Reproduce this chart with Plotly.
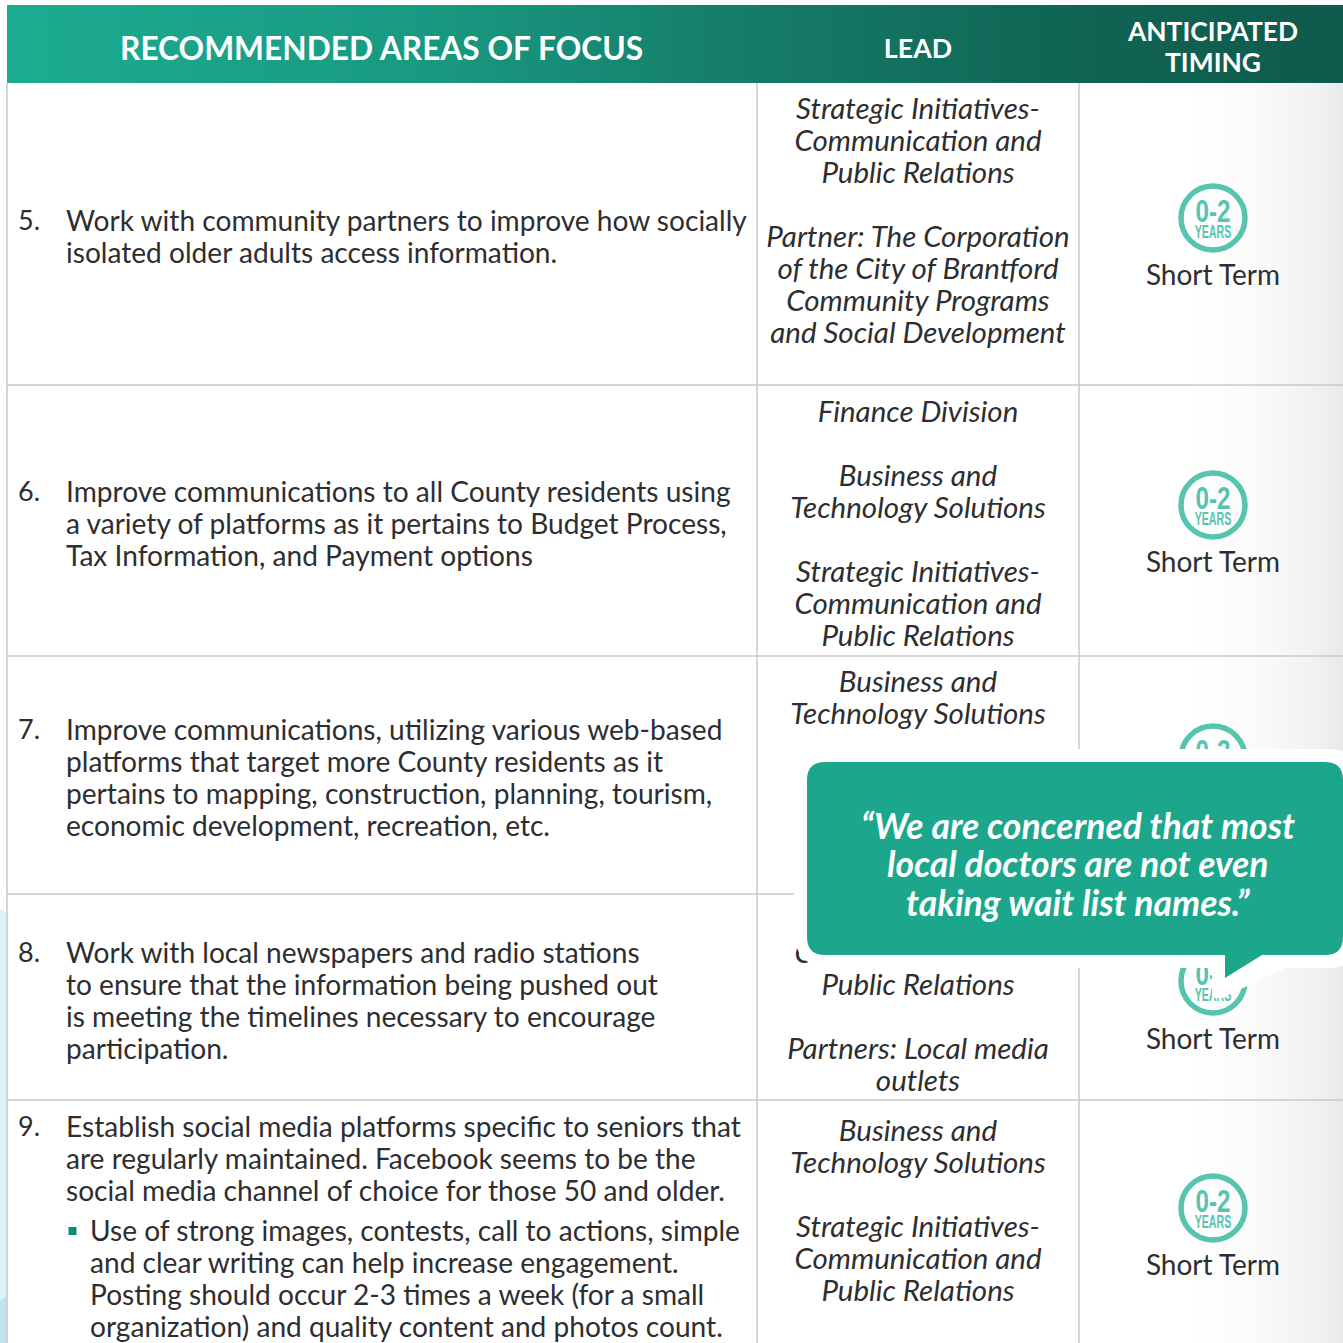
import numpy as np
import plotly.graph_objects as go

W = H = 1343
FONT = "Lato"
INK = "#2e2e30"
GRID = "#c9c9c9"
TEAL = "#1ca78c"
RING = "#57c4b0"
TEXT_DY = 2.5

# ---- table text ----
header_focus = "RECOMMENDED AREAS OF FOCUS"
header_lead = "LEAD"
header_timing = ["ANTICIPATED", "TIMING"]
row_numbers = ["5.", "6.", "7.", "8.", "9."]
number_y = [221, 492, 730, 953, 1127]

focus_lines = [
    ("Work with community partners to improve how socially", 221),
    ("isolated older adults access information.", 253),
    ("Improve communications to all County residents using", 492),
    ("a variety of platforms as it pertains to Budget Process,", 524),
    ("Tax Information, and Payment options", 556),
    ("Improve communications, utilizing various web-based", 730),
    ("platforms that target more County residents as it", 762),
    ("pertains to mapping, construction, planning, tourism,", 794),
    ("economic development, recreation, etc.", 826),
    ("Work with local newspapers and radio stations", 953),
    ("to ensure that the information being pushed out", 985),
    ("is meeting the timelines necessary to encourage", 1017),
    ("participation.", 1049),
    ("Establish social media platforms specific to seniors that", 1127),
    ("are regularly maintained. Facebook seems to be the", 1159),
    ("social media channel of choice for those 50 and older.", 1191),
]
bullet_lines = [
    ("Use of strong images, contests, call to actions, simple", 1231),
    ("and clear writing can help increase engagement.", 1263),
    ("Posting should occur 2-3 times a week (for a small", 1295),
    ("organization) and quality content and photos count.", 1327),
]
lead_lines = [
    ("Strategic Initiatives-", 109), ("Communication and", 141), ("Public Relations", 173),
    ("Partner: The Corporation", 237), ("of the City of Brantford", 269),
    ("Community Programs", 301), ("and Social Development", 333),
    ("Finance Division", 412), ("Business and", 476), ("Technology Solutions", 508),
    ("Strategic Initiatives-", 572), ("Communication and", 604), ("Public Relations", 636),
    ("Business and", 682), ("Technology Solutions", 714),
    ("Communication and", 953), ("Public Relations", 985),
    ("Partners: Local media", 1049), ("outlets", 1081),
    ("Business and", 1131), ("Technology Solutions", 1163),
    ("Strategic Initiatives-", 1227), ("Communication and", 1259), ("Public Relations", 1291),
]
timing_label = "Short Term"
badge_top = "0-2"
badge_bottom = "YEARS"
badge_y = [218, 505, 758, 981, 1208]
timing_y = [275, 562, 1039, 1265]
callout_lines = ["“We are concerned that most", "local doctors are not even", "taking wait list names.”"]
callout_y = [825, 863, 902]

# ---- geometry ----
row_rules = [385, 656, 894, 1100]
col_rules = [7, 757, 1079]
HEAD_TOP, HEAD_BOT = 5, 83
X_NUM, X_FOCUS, X_BUL, X_LEAD, X_TIME = 18, 66, 90, 918, 1213

fig = go.Figure()

def text_trace(xs, ys, texts, size, pos="middle right", color=INK, style="normal", weight=400, family=FONT):
    fig.add_trace(go.Scatter(
        x=xs, y=[y + TEXT_DY for y in ys], text=texts, mode="text", textposition=pos, hoverinfo="skip",
        showlegend=False, textfont=dict(family=family, size=size, color=color, style=style, weight=weight)))

# gradients
hx = np.linspace(7, W, 135)
fig.add_trace(go.Heatmap(
    x=hx, y=[HEAD_TOP, HEAD_BOT], z=[((hx[:-1] - 7) / (W - 7)).tolist()], showscale=False, hoverinfo="skip",
    zmin=0, zmax=1,
    colorscale=[[0, "#1cac8f"], [0.3, "#199a82"], [0.56, "#157b68"], [0.8, "#106453"], [1, "#0f5a4c"]]))
sx = np.linspace(1190, W, 40)
fig.add_trace(go.Heatmap(
    x=sx, y=[HEAD_BOT, H], z=[((sx[:-1] - 1190) / (W - 1190)).tolist()], showscale=False, hoverinfo="skip",
    zmin=0, zmax=1,
    colorscale=[[0, "#ffffff"], [0.5, "#f9f9fa"], [0.85, "#f0f0f1"], [1, "#e8e8ea"]]))

# text in the table
text_trace([120], [50], [header_focus], 31.7, color="white", weight=700)
text_trace([X_LEAD], [49], [header_lead], 26.8, "middle center", "white", weight=700)
text_trace([X_TIME] * 2, [32, 63], header_timing, 26.4, "middle center", "white", weight=700)
text_trace([X_NUM] * 5, number_y, row_numbers, 27)
text_trace([X_FOCUS] * len(focus_lines), [l[1] for l in focus_lines], [l[0] for l in focus_lines], 28.1)
text_trace([X_BUL] * len(bullet_lines), [l[1] for l in bullet_lines], [l[0] for l in bullet_lines], 28.1)
text_trace([X_LEAD] * len(lead_lines), [l[1] for l in lead_lines], [l[0] for l in lead_lines], 29.5,
           "middle center", style="italic")
text_trace([X_TIME] * 4, timing_y, [timing_label] * 4, 28, "middle center")
text_trace([X_TIME] * 5, [y - 6.5 for y in badge_y], [badge_top] * 5, 31, "middle center", RING, weight=700,
           family="Liberation Sans")
text_trace([X_TIME] * 5, [y + 12.5 for y in badge_y], [badge_bottom] * 5, 19, "middle center", RING, weight=700,
           family="Liberation Sans")

fig.add_trace(go.Scatter(x=[72.5], y=[1231], mode="markers", hoverinfo="skip", showlegend=False,
                         marker=dict(symbol="square", size=8, color="#0f8a78")))

shapes = []
# left decoration
shapes.append(dict(type="path", path="M0,909 Q4,910 7,913 L7,1343 L0,1343 Z", fillcolor="#ddf2f9", line_width=0, layer="above"))
shapes.append(dict(type="path", path="M0,1300 Q4,1298 7,1296 L7,1343 L0,1343 Z", fillcolor="#bfe6ec", line_width=0, layer="above"))
# rules
for y in row_rules:
    shapes.append(dict(type="line", x0=7, x1=W, y0=y, y1=y, line=dict(color=GRID, width=1.5), layer="above"))
for x in col_rules:
    shapes.append(dict(type="line", x0=x, x1=x, y0=HEAD_BOT, y1=H, line=dict(color=GRID, width=1.5), layer="above"))
# badges
for y in badge_y:
    shapes.append(dict(type="circle", x0=X_TIME - 32, x1=X_TIME + 32, y0=y - 32, y1=y + 32,
                       line=dict(color=RING, width=5.5), fillcolor="rgba(0,0,0,0)", layer="above"))
# callout: white halo then teal bubble
shapes.append(dict(type="path", layer="above", fillcolor="white", line_width=0,
                   path="M820,749 L1330,749 Q1356,749 1356,775 L1356,942 Q1356,968 1330,968 L1285,968 "
                        "L1222,998 L1212,998 L1212,968 L832,968 Q794,968 794,930 L794,775 Q794,749 820,749 Z"))
shapes.append(dict(type="path", layer="above", fillcolor=TEAL, line_width=0,
                   path="M825,762 L1325,762 Q1343,762 1343,780 L1343,937 Q1343,955 1325,955 L1262,955 "
                        "L1225,978 L1225,955 L825,955 Q807,955 807,937 L807,780 Q807,762 825,762 Z"))

annotations = [dict(x=1078, y=y, text=t, showarrow=False, xanchor="center", yanchor="middle",
                    font=dict(family=FONT, size=35.5, color="white", style="italic", weight=700))
               for t, y in zip(callout_lines, callout_y)]

fig.update_layout(
    width=W, height=H, margin=dict(l=0, r=0, t=0, b=0), paper_bgcolor="white", plot_bgcolor="white",
    showlegend=False, shapes=shapes, annotations=annotations,
    xaxis=dict(range=[0, W], visible=False, fixedrange=True),
    yaxis=dict(range=[H, 0], visible=False, fixedrange=True),
)
# The badge lettering is a tall condensed face: squeeze it horizontally about its own centre.
squeeze = """
document.body.style.margin='0';document.documentElement.style.overflow='hidden';
document.querySelectorAll('.textpoint text').forEach(function(t){
  var c=t.textContent, k=c==='0-2'?0.78:(c==='YEARS'?0.56:0);
  if(!k)return;
  var x=parseFloat(t.getAttribute('x'));
  t.setAttribute('transform','translate('+x+',0) scale('+k+',1) translate('+(-x)+',0)');
});
"""
fig.write_html("out.html", config={"displayModeBar": False}, post_script=squeeze)
